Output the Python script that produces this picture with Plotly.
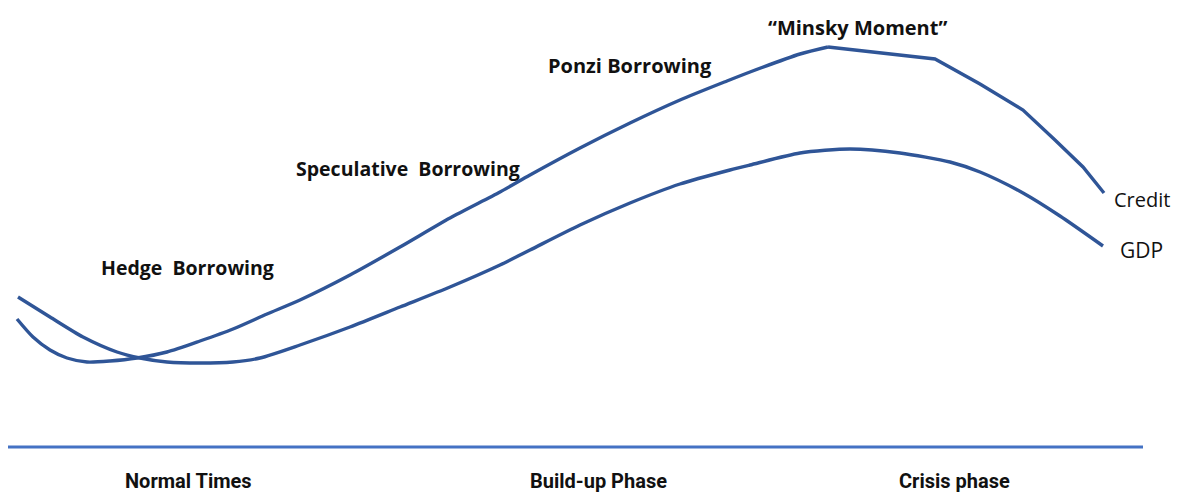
import plotly.graph_objects as go

# Time positions and levels (level = height above bottom of chart area)
credit_t = [17, 33, 50, 67, 87, 110, 137, 167, 200, 233, 267, 300, 350, 400, 450, 500,
            530, 580, 630, 680, 727, 750, 800, 828, 883, 935, 980, 1023, 1055, 1083, 1104]
credit_v = [176, 158, 145, 137, 133, 134, 137, 143, 154, 166, 181, 195, 220, 248, 277, 303,
            320, 347, 372, 395, 414, 423, 441, 448, 442, 436, 411, 385, 355, 328, 302]

gdp_t = [18, 50, 83, 117, 140, 167, 200, 233, 260, 300, 350, 400, 450, 500, 530, 580,
         630, 680, 730, 750, 800, 850, 900, 950, 980, 1023, 1060, 1103]
gdp_v = [198, 178, 158, 143, 137, 133, 132, 133, 137, 150, 168, 188, 208, 230, 245, 270,
         292, 311, 325, 330, 342, 346, 342, 333, 323, 302, 279, 249]

peak_idx = credit_t.index(828)  # smooth build-up, then a broken-line collapse

phase_labels = ["Normal Times", "Build-up Phase", "Crisis phase"]
phase_t = [188, 598, 954]

stage_labels = ["Hedge  Borrowing", "Speculative  Borrowing", "Ponzi Borrowing", "\u201cMinsky Moment\u201d"]
stage_t = [187, 408, 630, 857]
stage_v = [228, 327, 430, 468]
stage_size = [19.5, 19.5, 20, 20]

line_col = "#2F5597"

fig = go.Figure()
fig.add_trace(go.Scatter(x=credit_t[:peak_idx + 1], y=credit_v[:peak_idx + 1], mode="lines", name="Credit",
                         line=dict(color=line_col, width=3.4, shape="spline", smoothing=0.7)))
fig.add_trace(go.Scatter(x=credit_t[peak_idx:], y=credit_v[peak_idx:], mode="lines", name="Credit",
                         line=dict(color=line_col, width=3.4, shape="linear")))
fig.add_trace(go.Scatter(x=gdp_t, y=gdp_v, mode="lines", name="GDP",
                         line=dict(color=line_col, width=3.4, shape="spline", smoothing=0.7)))

# baseline
fig.add_shape(type="line", x0=8, x1=1143, y0=48, y1=48, xref="x", yref="y",
              line=dict(color="#4472C4", width=3))

font_b = "Open Sans"
for lab, t, v, s in zip(stage_labels, stage_t, stage_v, stage_size):
    fig.add_annotation(x=t, y=v, text="<b>" + lab + "</b>", showarrow=False,
                       xanchor="center", yanchor="middle",
                       font=dict(family=font_b, size=s, color="#111111"))

fig.add_annotation(x=1112, y=296, text="Credit", showarrow=False, xanchor="left", yanchor="middle",
                   font=dict(family=font_b, size=20, color="#111111"))
fig.add_annotation(x=1118, y=245, text="GDP", showarrow=False, xanchor="left", yanchor="middle",
                   font=dict(family=font_b, size=21, color="#111111"))

for lab, t in zip(phase_labels, phase_t):
    fig.add_annotation(x=t, y=1, text="<b>" + lab + "</b>", showarrow=False,
                       xanchor="center", yanchor="bottom", borderpad=0,
                       font=dict(family="Roboto", size=20, color="#111111"))

fig.update_layout(
    width=1183, height=495,
    margin=dict(l=0, r=0, t=0, b=0),
    paper_bgcolor="white", plot_bgcolor="white",
    showlegend=False,
    xaxis=dict(range=[0, 1183], visible=False, fixedrange=True),
    yaxis=dict(range=[0, 495], visible=False, fixedrange=True),
)

fig.write_html("out.html")
